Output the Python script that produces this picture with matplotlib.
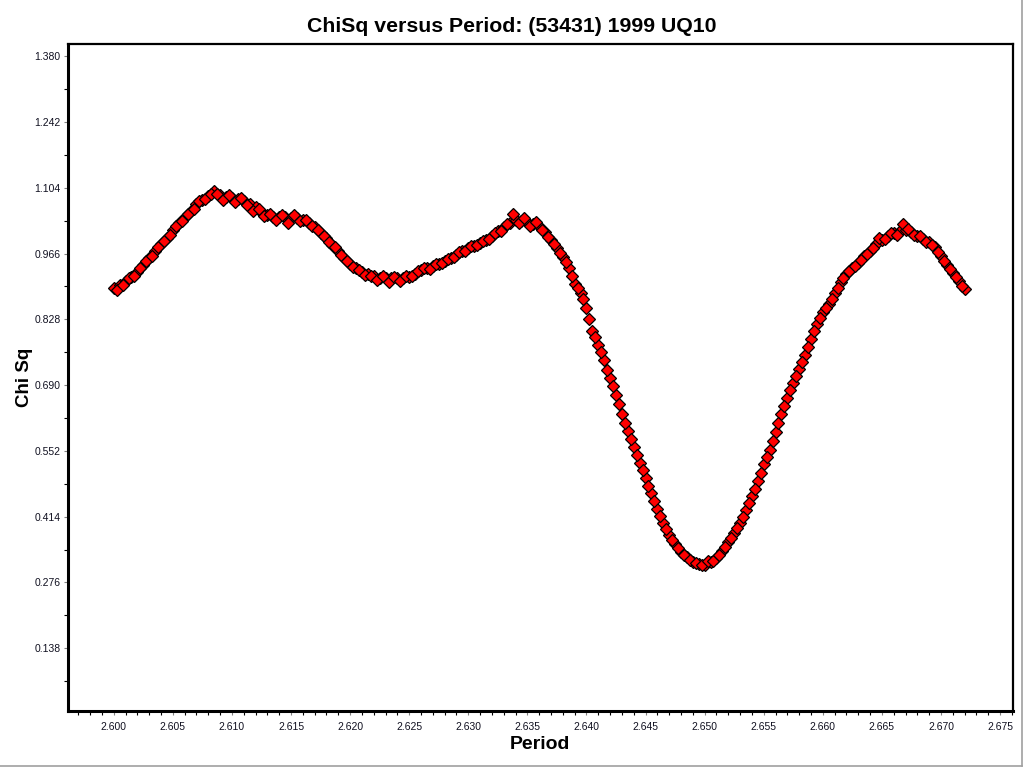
import matplotlib
matplotlib.use("Agg")
import matplotlib.pyplot as plt
from matplotlib.ticker import FixedLocator, MultipleLocator
from matplotlib.lines import Line2D

period = [
    2.6000, 2.6005, 2.6010, 2.6015, 2.6020, 2.6025, 2.6030, 2.6035, 2.6040, 2.6045,
    2.6050, 2.6055, 2.6060, 2.6065, 2.6070, 2.6075, 2.6080, 2.6085, 2.6090, 2.6095,
    2.6100, 2.6105, 2.6110, 2.6115, 2.6120, 2.6125, 2.6130, 2.6135, 2.6140, 2.6145,
    2.6150, 2.6155, 2.6160, 2.6165, 2.6170, 2.6175, 2.6180, 2.6185, 2.6190, 2.6195,
    2.6200, 2.6205, 2.6210, 2.6215, 2.6220, 2.6225, 2.6230, 2.6235, 2.6240, 2.6245,
    2.6250, 2.6255, 2.6260, 2.6265, 2.6270, 2.6275, 2.6280, 2.6285, 2.6290, 2.6295,
    2.6300, 2.6305, 2.6310, 2.6315, 2.6320, 2.6325, 2.6330, 2.6335, 2.6340, 2.6345,
    2.6350, 2.6355, 2.6360, 2.6365, 2.6370, 2.6375, 2.6380, 2.6385, 2.6390, 2.6395,
    2.6400, 2.6405, 2.6410, 2.6415, 2.6420, 2.6425, 2.6430, 2.6435, 2.6440, 2.6445,
    2.6450, 2.6455, 2.6460, 2.6465, 2.6470, 2.6475, 2.6480, 2.6485, 2.6490, 2.6495,
    2.6500, 2.6505, 2.6510, 2.6515, 2.6520, 2.6525, 2.6530, 2.6535, 2.6540, 2.6545,
    2.6550, 2.6555, 2.6560, 2.6565, 2.6570, 2.6575, 2.6580, 2.6585, 2.6590, 2.6595,
    2.6600, 2.6605, 2.6610, 2.6615, 2.6620, 2.6625, 2.6630, 2.6635, 2.6640, 2.6645,
    2.6650, 2.6655, 2.6660, 2.6665, 2.6670, 2.6675, 2.6680, 2.6685, 2.6690, 2.6695,
    2.6700, 2.6705, 2.6710, 2.6715, 2.6720,
]

chisq = [
    0.894, 0.900, 0.908, 0.917, 0.927, 0.942, 0.956, 0.971, 0.986, 0.998,
    1.015, 1.030, 1.042, 1.055, 1.070, 1.078, 1.086, 1.097, 1.089, 1.084,
    1.082, 1.080, 1.076, 1.070, 1.063, 1.053, 1.047, 1.042, 1.042, 1.042,
    1.041, 1.040, 1.036, 1.030, 1.021, 1.009, 0.998, 0.984, 0.971, 0.956,
    0.944, 0.935, 0.927, 0.923, 0.918, 0.914, 0.914, 0.914, 0.914, 0.915,
    0.917, 0.923, 0.931, 0.935, 0.940, 0.944, 0.950, 0.956, 0.963, 0.971,
    0.977, 0.982, 0.988, 0.994, 1.003, 1.013, 1.021, 1.030, 1.036, 1.034,
    1.032, 1.029, 1.024, 1.011, 0.994, 0.977, 0.958, 0.935, 0.902, 0.883,
    0.852, 0.803, 0.774, 0.742, 0.705, 0.669, 0.629, 0.594, 0.560, 0.527,
    0.495, 0.464, 0.430, 0.401, 0.375, 0.357, 0.340, 0.329, 0.319, 0.315,
    0.313, 0.319, 0.327, 0.342, 0.361, 0.380, 0.401, 0.428, 0.457, 0.489,
    0.524, 0.554, 0.592, 0.629, 0.663, 0.694, 0.724, 0.753, 0.787, 0.818,
    0.843, 0.860, 0.883, 0.906, 0.923, 0.935, 0.946, 0.961, 0.971, 0.986,
    0.994, 1.003, 1.009, 1.013, 1.015, 1.011, 1.003, 0.996, 0.990, 0.979,
    0.961, 0.942, 0.925, 0.908, 0.891,
]

period_b = [
    2.60025, 2.60075, 2.60125, 2.60175, 2.60225, 2.60275, 2.60325, 2.60375, 2.60425, 2.60475,
    2.60525, 2.60575, 2.60625, 2.60675, 2.60725, 2.60775, 2.60825, 2.60875, 2.60925, 2.60975,
    2.61025, 2.61075, 2.61125, 2.61175, 2.61225, 2.61275, 2.61325, 2.61375, 2.61425, 2.61475,
    2.61525, 2.61575, 2.61625, 2.61675, 2.61725, 2.61775, 2.61825, 2.61875, 2.61925, 2.61975,
    2.62025, 2.62075, 2.62125, 2.62175, 2.62225, 2.62275, 2.62325, 2.62375, 2.62425, 2.62475,
    2.62525, 2.62575, 2.62625, 2.62675, 2.62725, 2.62775, 2.62825, 2.62875, 2.62925, 2.62975,
    2.63025, 2.63075, 2.63125, 2.63175, 2.63225, 2.63275, 2.63325, 2.63375, 2.63425, 2.63475,
    2.63525, 2.63575, 2.63625, 2.63675, 2.63725, 2.63775, 2.63825, 2.63875, 2.63925, 2.63975,
    2.64025, 2.64075, 2.64125, 2.64175, 2.64225, 2.64275, 2.64325, 2.64375, 2.64425, 2.64475,
    2.64525, 2.64575, 2.64625, 2.64675, 2.64725, 2.64775, 2.64825, 2.64875, 2.64925, 2.64975,
    2.65025, 2.65075, 2.65125, 2.65175, 2.65225, 2.65275, 2.65325, 2.65375, 2.65425, 2.65475,
    2.65525, 2.65575, 2.65625, 2.65675, 2.65725, 2.65775, 2.65825, 2.65875, 2.65925, 2.65975,
    2.66025, 2.66075, 2.66125, 2.66175, 2.66225, 2.66275, 2.66325, 2.66375, 2.66425, 2.66475,
    2.66525, 2.66575, 2.66625, 2.66675, 2.66725, 2.66775, 2.66825, 2.66875, 2.66925, 2.66975,
    2.67025, 2.67075, 2.67125, 2.67175,
]

chisq_b = [
    0.889, 0.901, 0.915, 0.920, 0.936, 0.951, 0.961, 0.979, 0.993, 1.004,
    1.024, 1.034, 1.050, 1.060, 1.076, 1.081, 1.092, 1.090, 1.078, 1.088,
    1.075, 1.083, 1.068, 1.055, 1.060, 1.044, 1.048, 1.036, 1.046, 1.030,
    1.046, 1.034, 1.036, 1.024, 1.016, 1.002, 0.991, 0.979, 0.962, 0.951,
    0.938, 0.932, 0.922, 0.920, 0.910, 0.918, 0.906, 0.917, 0.909, 0.919,
    0.918, 0.929, 0.936, 0.934, 0.945, 0.946, 0.955, 0.958, 0.969, 0.972,
    0.982, 0.983, 0.993, 0.996, 1.010, 1.014, 1.028, 1.048, 1.030, 1.040,
    1.024, 1.032, 1.016, 1.000, 0.986, 0.968, 0.948, 0.920, 0.893, 0.870,
    0.829, 0.790, 0.760, 0.722, 0.688, 0.650, 0.610, 0.577, 0.544, 0.511,
    0.479, 0.447, 0.415, 0.388, 0.365, 0.348, 0.334, 0.323, 0.317, 0.313,
    0.322, 0.322, 0.334, 0.351, 0.370, 0.390, 0.414, 0.442, 0.473, 0.506,
    0.540, 0.573, 0.611, 0.646, 0.679, 0.709, 0.738, 0.770, 0.803, 0.830,
    0.852, 0.871, 0.894, 0.914, 0.929, 0.940, 0.953, 0.966, 0.978, 0.998,
    0.996, 1.009, 1.005, 1.028, 1.018, 1.004, 1.002, 0.991, 0.985, 0.970,
    0.951, 0.933, 0.916, 0.899,
]

x_ticks = [2.600, 2.605, 2.610, 2.615, 2.620, 2.625, 2.630, 2.635,
           2.640, 2.645, 2.650, 2.655, 2.660, 2.665, 2.670, 2.675]
x_tick_labels = ["2.600", "2.605", "2.610", "2.615", "2.620", "2.625", "2.630", "2.635",
                 "2.640", "2.645", "2.650", "2.655", "2.660", "2.665", "2.670", "2.675"]
y_ticks = [0.138, 0.276, 0.414, 0.552, 0.690, 0.828, 0.966, 1.104, 1.242, 1.380]
y_tick_labels = ["0.138", "0.276", "0.414", "0.552", "0.690", "0.828",
                 "0.966", "1.104", "1.242", "1.380"]

plt.rcParams['font.family'] = ['Liberation Sans', 'DejaVu Sans']

fig = plt.figure(figsize=(10.24, 7.68), dpi=100)
ax = fig.add_axes([0.0661, 0.0746, 0.9232, 0.8677])

marker_style = dict(linestyle='none', marker='D', markersize=5.8,
                    markerfacecolor='#ff0000', markeredgecolor='#000000',
                    markeredgewidth=0.9)
ax.plot(period, chisq, **marker_style)
ax.plot(period_b, chisq_b, **marker_style)

ax.set_xlim(2.5961, 2.6761)
ax.set_ylim(0.007, 1.405)

ax.xaxis.set_major_locator(FixedLocator(x_ticks))
ax.set_xticklabels(x_tick_labels)
ax.xaxis.set_minor_locator(MultipleLocator(0.001))
ax.yaxis.set_major_locator(FixedLocator(y_ticks))
ax.set_yticklabels(y_tick_labels)
ax.yaxis.set_minor_locator(MultipleLocator(0.069))

ax.tick_params(axis='both', which='major', direction='out', length=3, width=0.8,
               color='#808080', labelsize=7.5, labelcolor='#101020')
ax.tick_params(axis='both', which='minor', direction='out', length=3, width=0.8,
               color='#000000')
ax.tick_params(axis='x', which='major', pad=5)
ax.tick_params(axis='y', which='major', pad=2)

for side in ['left', 'bottom']:
    ax.spines[side].set_linewidth(2.2)
for side in ['top', 'right']:
    ax.spines[side].set_linewidth(1.6)

fig.text(0.5, 1 - 27 / 768, "ChiSq versus Period: (53431) 1999 UQ10",
         fontsize=15.3, fontweight='bold', ha='center', va='center')
ax.set_xlabel("Period", fontsize=14, fontweight='bold', labelpad=3)
ax.set_ylabel("Chi Sq", fontsize=13.5, fontweight='bold', labelpad=1)

fig.add_artist(Line2D([0, 0.9985], [0.0025, 0.0025], transform=fig.transFigure,
                      color='#a0a0a0', linewidth=1.2))
fig.add_artist(Line2D([0.9985, 0.9985], [0.0025, 1.0], transform=fig.transFigure,
                      color='#a0a0a0', linewidth=1.2))

fig.savefig("out.png", dpi=100)
